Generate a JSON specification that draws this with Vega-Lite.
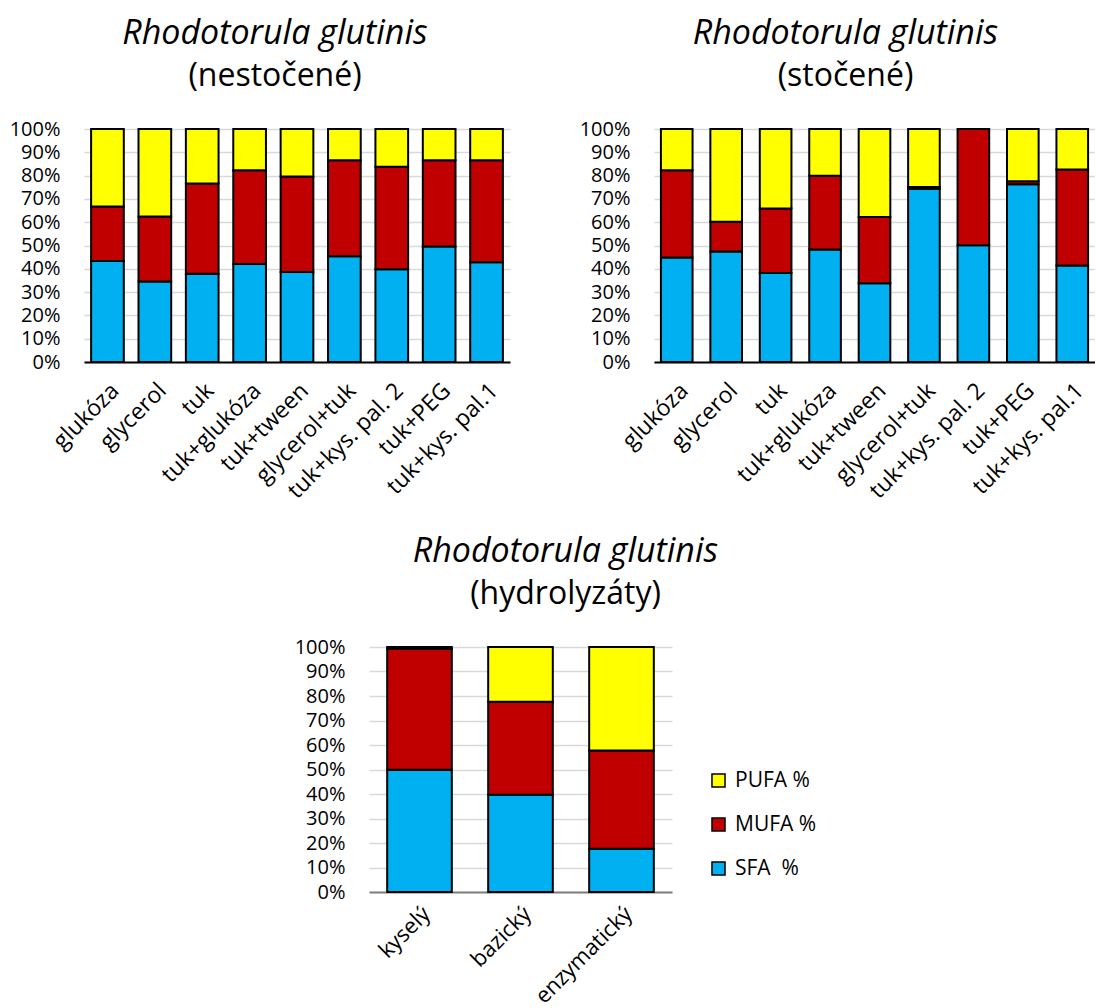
{
  "$schema": "https://vega.github.io/schema/vega-lite/v6.json",
  "padding": {"left": 9, "top": 17, "right": 0, "bottom": 0},
  "background": "white",
  "config": {
    "font": "Open Sans",
    "view": {"stroke": null},
    "title": {"font": "Open Sans", "fontSize": 34, "fontStyle": "italic", "fontWeight": "normal", "color": "black", "subtitleFont": "Open Sans", "subtitleFontSize": 32, "subtitleFontStyle": "normal", "subtitleColor": "black", "subtitlePadding": 10, "anchor": "middle", "frame": "group", "offset": 27},
    "axisY": {"grid": true, "gridColor": "#d9d9d9", "gridWidth": 1.5, "domain": false, "ticks": false, "labelPadding": 24, "labelFontSize": 20, "labelColor": "black", "labelFont": "Open Sans", "labelOverlap": false, "title": null, "format": ".0%"},
    "axisX": {"grid": false, "domain": true, "domainColor": "black", "domainWidth": 2, "ticks": false, "labelAngle": -45, "labelFontSize": 23, "labelColor": "black", "labelFont": "Open Sans", "labelPadding": 17, "labelOverlap": false, "title": null}
  },
  "datasets": {
    "nest": [
      {"medium": "glukóza", "fa": "SFA  %", "value": 43.4}, {"medium": "glukóza", "fa": "MUFA %", "value": 23.3}, {"medium": "glukóza", "fa": "PUFA %", "value": 33.3},
      {"medium": "glycerol", "fa": "SFA  %", "value": 34.5}, {"medium": "glycerol", "fa": "MUFA %", "value": 27.9}, {"medium": "glycerol", "fa": "PUFA %", "value": 37.6},
      {"medium": "tuk", "fa": "SFA  %", "value": 37.9}, {"medium": "tuk", "fa": "MUFA %", "value": 38.7}, {"medium": "tuk", "fa": "PUFA %", "value": 23.4},
      {"medium": "tuk+glukóza", "fa": "SFA  %", "value": 42.1}, {"medium": "tuk+glukóza", "fa": "MUFA %", "value": 40.2}, {"medium": "tuk+glukóza", "fa": "PUFA %", "value": 17.7},
      {"medium": "tuk+tween", "fa": "SFA  %", "value": 38.6}, {"medium": "tuk+tween", "fa": "MUFA %", "value": 41.0}, {"medium": "tuk+tween", "fa": "PUFA %", "value": 20.4},
      {"medium": "glycerol+tuk", "fa": "SFA  %", "value": 45.4}, {"medium": "glycerol+tuk", "fa": "MUFA %", "value": 41.2}, {"medium": "glycerol+tuk", "fa": "PUFA %", "value": 13.4},
      {"medium": "tuk+kys. pal. 2", "fa": "SFA  %", "value": 39.8}, {"medium": "tuk+kys. pal. 2", "fa": "MUFA %", "value": 44.0}, {"medium": "tuk+kys. pal. 2", "fa": "PUFA %", "value": 16.2},
      {"medium": "tuk+PEG", "fa": "SFA  %", "value": 49.6}, {"medium": "tuk+PEG", "fa": "MUFA %", "value": 37.0}, {"medium": "tuk+PEG", "fa": "PUFA %", "value": 13.4},
      {"medium": "tuk+kys. pal.1", "fa": "SFA  %", "value": 42.8}, {"medium": "tuk+kys. pal.1", "fa": "MUFA %", "value": 43.8}, {"medium": "tuk+kys. pal.1", "fa": "PUFA %", "value": 13.4}
    ],
    "stoc": [
      {"medium": "glukóza", "fa": "SFA  %", "value": 44.8}, {"medium": "glukóza", "fa": "MUFA %", "value": 37.5}, {"medium": "glukóza", "fa": "PUFA %", "value": 17.7},
      {"medium": "glycerol", "fa": "SFA  %", "value": 47.4}, {"medium": "glycerol", "fa": "MUFA %", "value": 12.8}, {"medium": "glycerol", "fa": "PUFA %", "value": 39.8},
      {"medium": "tuk", "fa": "SFA  %", "value": 38.2}, {"medium": "tuk", "fa": "MUFA %", "value": 27.7}, {"medium": "tuk", "fa": "PUFA %", "value": 34.1},
      {"medium": "tuk+glukóza", "fa": "SFA  %", "value": 48.3}, {"medium": "tuk+glukóza", "fa": "MUFA %", "value": 31.6}, {"medium": "tuk+glukóza", "fa": "PUFA %", "value": 20.1},
      {"medium": "tuk+tween", "fa": "SFA  %", "value": 33.8}, {"medium": "tuk+tween", "fa": "MUFA %", "value": 28.4}, {"medium": "tuk+tween", "fa": "PUFA %", "value": 37.8},
      {"medium": "glycerol+tuk", "fa": "SFA  %", "value": 74.3}, {"medium": "glycerol+tuk", "fa": "MUFA %", "value": 0.8}, {"medium": "glycerol+tuk", "fa": "PUFA %", "value": 24.9},
      {"medium": "tuk+kys. pal. 2", "fa": "SFA  %", "value": 50.1}, {"medium": "tuk+kys. pal. 2", "fa": "MUFA %", "value": 49.9}, {"medium": "tuk+kys. pal. 2", "fa": "PUFA %", "value": 0},
      {"medium": "tuk+PEG", "fa": "SFA  %", "value": 76.3}, {"medium": "tuk+PEG", "fa": "MUFA %", "value": 1.3}, {"medium": "tuk+PEG", "fa": "PUFA %", "value": 22.4},
      {"medium": "tuk+kys. pal.1", "fa": "SFA  %", "value": 41.4}, {"medium": "tuk+kys. pal.1", "fa": "MUFA %", "value": 41.2}, {"medium": "tuk+kys. pal.1", "fa": "PUFA %", "value": 17.4}
    ],
    "hydro": [
      {"medium": "kyselý", "fa": "SFA  %", "value": 49.9}, {"medium": "kyselý", "fa": "MUFA %", "value": 49.4}, {"medium": "kyselý", "fa": "PUFA %", "value": 0.7},
      {"medium": "bazický", "fa": "SFA  %", "value": 39.7}, {"medium": "bazický", "fa": "MUFA %", "value": 38.0}, {"medium": "bazický", "fa": "PUFA %", "value": 22.3},
      {"medium": "enzymatický", "fa": "SFA  %", "value": 17.7}, {"medium": "enzymatický", "fa": "MUFA %", "value": 40.1}, {"medium": "enzymatický", "fa": "PUFA %", "value": 42.2}
    ]
  },
  "vconcat": [
    {
      "hconcat": [
        {
          "data": {"name": "nest"},
          "transform": [{"calculate": "indexof(['SFA  %','MUFA %','PUFA %'], datum.fa)", "as": "ord"}],
          "width": 426, "height": 233,
          "title": {"text": "Rhodotorula glutinis", "subtitle": "(nestočené)", "dx": -22},
          "mark": {"type": "bar", "stroke": "black", "strokeWidth": 2},
          "encoding": {
            "x": {"field": "medium", "type": "nominal", "sort": null, "scale": {"paddingInner": 0.31, "paddingOuter": 0.15}},
            "y": {"field": "value", "type": "quantitative", "stack": "normalize", "scale": {"domain": [0, 1]}, "axis": {"values": [0, 0.1, 0.2, 0.3, 0.4, 0.5, 0.6, 0.7, 0.8, 0.9, 1]}},
            "order": {"field": "ord", "type": "quantitative"},
            "color": {"field": "fa", "type": "nominal", "scale": {"domain": ["SFA  %", "MUFA %", "PUFA %"], "range": ["#00b0f0", "#c00000", "#ffff00"]}, "legend": null}
          }
        },
        {
          "data": {"name": "stoc"},
          "transform": [{"calculate": "indexof(['SFA  %','MUFA %','PUFA %'], datum.fa)", "as": "ord"}],
          "width": 441, "height": 233,
          "title": {"text": "Rhodotorula glutinis", "subtitle": "(stočené)", "dx": -29},
          "mark": {"type": "bar", "stroke": "black", "strokeWidth": 2},
          "encoding": {
            "x": {"field": "medium", "type": "nominal", "sort": null, "scale": {"paddingInner": 0.36, "paddingOuter": 0.14}},
            "y": {"field": "value", "type": "quantitative", "stack": "normalize", "scale": {"domain": [0, 1]}, "axis": {"values": [0, 0.1, 0.2, 0.3, 0.4, 0.5, 0.6, 0.7, 0.8, 0.9, 1]}},
            "order": {"field": "ord", "type": "quantitative"},
            "color": {"field": "fa", "type": "nominal", "scale": {"domain": ["SFA  %", "MUFA %", "PUFA %"], "range": ["#00b0f0", "#c00000", "#ffff00"]}, "legend": null}
          }
        }
      ],
      "spacing": 69,
      "resolve": {"scale": {"x": "independent", "y": "independent"}}
    },
    {
      "hconcat": [
        {
          "width": 210, "height": 10,
          "data": {"values": [{}]},
          "mark": {"type": "rule", "opacity": 0},
          "encoding": {}
        },
        {
          "data": {"name": "hydro"},
          "transform": [{"calculate": "indexof(['SFA  %','MUFA %','PUFA %'], datum.fa)", "as": "ord"}],
          "width": 303, "height": 245,
          "title": {"text": "Rhodotorula glutinis", "subtitle": "(hydrolyzáty)", "dx": 45, "offset": 27},
          "mark": {"type": "bar", "stroke": "black", "strokeWidth": 2},
          "encoding": {
            "x": {"field": "medium", "type": "nominal", "sort": null, "scale": {"paddingInner": 0.36, "paddingOuter": 0.18}, "axis": {"domainColor": "#7f7f7f", "labelPadding": 11, "labelFontSize": 22}},
            "y": {"field": "value", "type": "quantitative", "stack": "normalize", "scale": {"domain": [0, 1]}, "axis": {"values": [0, 0.1, 0.2, 0.3, 0.4, 0.5, 0.6, 0.7, 0.8, 0.9, 1]}},
            "order": {"field": "ord", "type": "quantitative"},
            "color": {"field": "fa", "type": "nominal", "scale": {"domain": ["SFA  %", "MUFA %", "PUFA %"], "range": ["#00b0f0", "#c00000", "#ffff00"]},
              "legend": {"orient": "none", "legendX": 339, "legendY": 123, "title": null, "values": ["PUFA %", "MUFA %", "SFA  %"], "labelExpr": "datum.label == 'SFA  %' ? 'SFA\u00a0\u00a0%' : datum.label", "symbolType": "square", "symbolSize": 170, "symbolStrokeColor": "black", "symbolStrokeWidth": 1.5, "symbolOpacity": 1, "labelFontSize": 21, "labelFont": "Open Sans", "labelColor": "black", "labelOffset": 6, "rowPadding": 22, "padding": 0}}
          }
        }
      ],
      "spacing": 0,
      "resolve": {"scale": {"x": "independent", "y": "independent", "color": "independent"}, "legend": {"color": "independent"}}
    }
  ],
  "spacing": 32,
  "resolve": {"scale": {"x": "independent", "y": "independent", "color": "independent"}, "legend": {"color": "independent"}}
}
